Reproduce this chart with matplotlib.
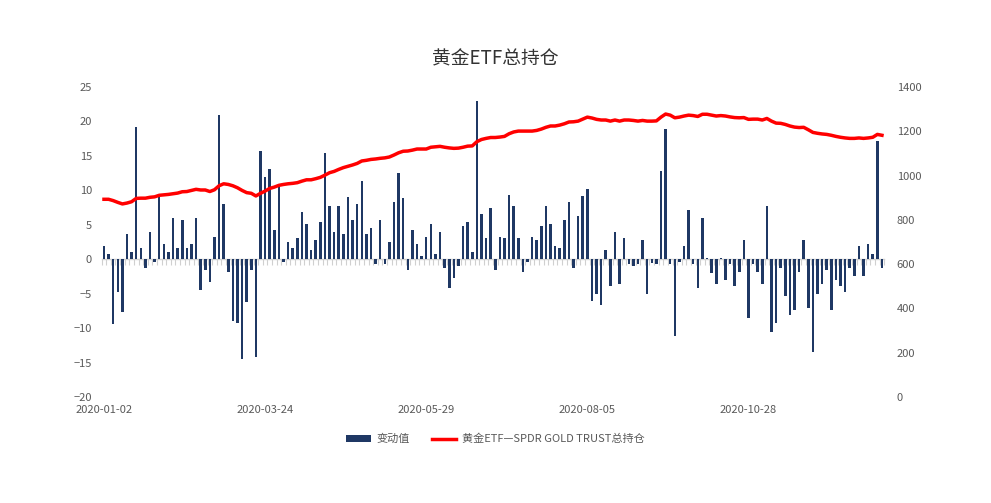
#!/usr/bin/env python3
# -*- coding: utf-8 -*-

import matplotlib
matplotlib.use('Agg')
import matplotlib.pyplot as plt
import numpy as np
from matplotlib.patches import Patch
from matplotlib.lines import Line2D

plt.rcParams['font.family'] = ['Noto Sans CJK SC', 'DejaVu Sans']

# daily change (tonnes), one value per trading day
changes = [1.9, 0.7, -9.4, -4.8, -7.7, 3.6, 1.0, 19.2, 1.6, -1.3, 3.9, -0.4, 9.2, 2.2,
           1.0, 6.0, 1.6, 5.7, 1.6, 2.2, 6.0, -4.5, -1.6, -3.3, 3.3, 20.9, 8.0, -1.9,
           -8.9, -9.2, -14.5, -6.25, -1.6, -14.2, 15.7, 11.9, 13.1, 4.2, 10.8, -0.4, 2.5,
           1.6, 3.05, 6.8, 5.1, 1.3, 2.8, 5.4, 15.4, 7.7, 3.9, 7.7, 3.6, 9.0, 5.7, 8.0, 11.3,
           3.6, 4.5, -0.7, 5.7, -0.7, 2.5, 8.3, 12.5, 8.9, -1.55, 4.2, 2.2, 0.45, 3.3,
           5.1, 0.7, 3.9, -1.3, -4.2, -2.7, -1.0, 4.8, 5.4, 1.0, 23.0, 6.5, 3.05, 7.4,
           -1.55, 3.3, 3.05, 9.3, 7.7, 3.05, -1.85, -0.4, 3.3, 2.8, 4.8, 7.7, 5.1, 1.9,
           1.6, 5.7, 8.3, -1.3, 6.25, 9.2, 10.2, -6.0, -5.1, -6.7, 1.3, -3.9, 3.9, -3.6,
           3.05, -0.7, -1.0, -0.7, 2.8, -5.1, -0.55, -0.7, 12.8, 18.9, -0.7, -11.1, -0.4,
           1.9, 7.1, -0.7, -4.2, 6.0, 0.15, -2.0, -3.6, 0.15, -3.05, -0.7, -3.9, -1.85, 2.8, -8.6,
           -0.7, -1.85, -3.6, 7.7, -10.6, -9.2, -1.3, -5.4, -8.1, -7.4, -1.85, 2.8, -7.1,
           -13.5, -5.1, -3.6, -1.55, -7.3, -3.05, -3.9, -4.8, -1.3, -2.5, 1.9, -2.5, 2.2,
           0.7, 17.2, -1.3]

# total holdings (tonnes)
holdings = [893, 893, 887, 879, 872, 876, 882, 897, 898, 898, 902, 904, 911, 913, 915,
            918, 921, 927, 928, 933, 938, 935, 935, 928, 936, 954, 963, 960,
            954, 945, 933, 923, 920, 908, 920, 930, 942, 948, 956, 960, 963, 965, 968,
            975, 981, 981, 986, 992, 1002, 1013, 1019, 1028, 1036, 1042, 1048, 1055, 1066,
            1069, 1073, 1075, 1078, 1080, 1084, 1093, 1103, 1110, 1111, 1115, 1120, 1120,
            1120, 1128, 1130, 1132, 1128, 1125, 1123, 1124, 1128, 1133, 1134, 1153, 1163,
            1168, 1172,
            1172, 1174, 1177, 1189, 1197, 1201, 1201, 1201, 1201, 1204, 1210, 1218, 1224,
            1224, 1228, 1234, 1242, 1243, 1246, 1255, 1264, 1260, 1254, 1251, 1251, 1246,
            1251, 1246,
            1251, 1251, 1249, 1246, 1249, 1246, 1246, 1247, 1264, 1278, 1273, 1261, 1264,
            1269, 1273, 1271, 1267, 1277, 1277, 1273, 1269, 1271, 1269, 1265, 1262, 1261,
            1262, 1254,
            1255, 1255, 1251, 1258, 1246, 1237, 1236, 1231, 1224, 1219, 1217, 1218, 1207,
            1195, 1191, 1188, 1186, 1182, 1177, 1173, 1170, 1168, 1168, 1170, 1168, 1170,
            1173, 1186, 1182]

tick_labels = ['2020-01-02', '2020-03-24', '2020-05-29', '2020-08-05', '2020-10-28']
label_step = 35

BAR_COLOR = '#1f3864'
TEXT_COLOR = '#595959'


def plot_gold():
    n = len(changes)
    x = np.arange(n)

    fig = plt.figure(figsize=(9.91, 5.03), dpi=100)
    ax = fig.add_axes([0.1026, 0.2107, 0.7897, 0.6163])
    ax2 = ax.twinx()

    ax.bar(x, changes, width=0.55, color=BAR_COLOR, zorder=2)
    ax2.plot(x, holdings, color='#ff0000', linewidth=2.5, zorder=3)

    ax.set_xlim(-0.5, n - 0.5)
    ax.set_ylim(-20, 25)
    ax.set_yticks(range(-20, 26, 5))
    ax2.set_ylim(0, 1400)
    ax2.set_yticks(range(0, 1401, 200))

    for a in (ax, ax2):
        for s in a.spines.values():
            s.set_visible(False)
        a.tick_params(axis='y', length=0, labelsize=8, labelcolor=TEXT_COLOR)
    ax.tick_params(axis='y', pad=7)
    ax2.tick_params(axis='y', pad=9)

    # date labels at the bottom
    ax.set_xticks([i * label_step for i in range(len(tick_labels))])
    ax.set_xticklabels(tick_labels)
    ax.tick_params(axis='x', length=0, labelsize=8, labelcolor=TEXT_COLOR, pad=6)

    # category axis line on zero with small boundary ticks
    zero_frac = -ax.get_ylim()[0] / (ax.get_ylim()[1] - ax.get_ylim()[0])
    zax = ax.secondary_xaxis(zero_frac)
    zax.set_xticks(np.arange(n + 1) - 0.5)
    zax.set_xticklabels([])
    zax.tick_params(axis='x', direction='out', length=4, width=0.8, color='#d0d0d0')
    zax.spines['bottom'].set_color('#d0d0d0')
    zax.spines['bottom'].set_linewidth(1.0)
    for s in ('top', 'left', 'right'):
        zax.spines[s].set_visible(False)

    fig.text(0.5, 0.882, '黄金ETF总持仓', ha='center', va='center',
             fontsize=13.5, color='#333333')

    handles = [Patch(facecolor=BAR_COLOR, edgecolor='none'),
               Line2D([0], [0], color='#ff0000', linewidth=2.5)]
    fig.legend(handles, ['变动值', '黄金ETF—SPDR GOLD TRUST总持仓'],
               loc='center', bbox_to_anchor=(0.5, 0.127), ncol=2, frameon=False,
               fontsize=8, labelcolor=TEXT_COLOR, handlelength=2.2, handleheight=0.6,
               handletextpad=0.5, columnspacing=2.0)

    fig.savefig('out.png', dpi=100)


def main():
    plot_gold()


if __name__ == '__main__':
    main()
